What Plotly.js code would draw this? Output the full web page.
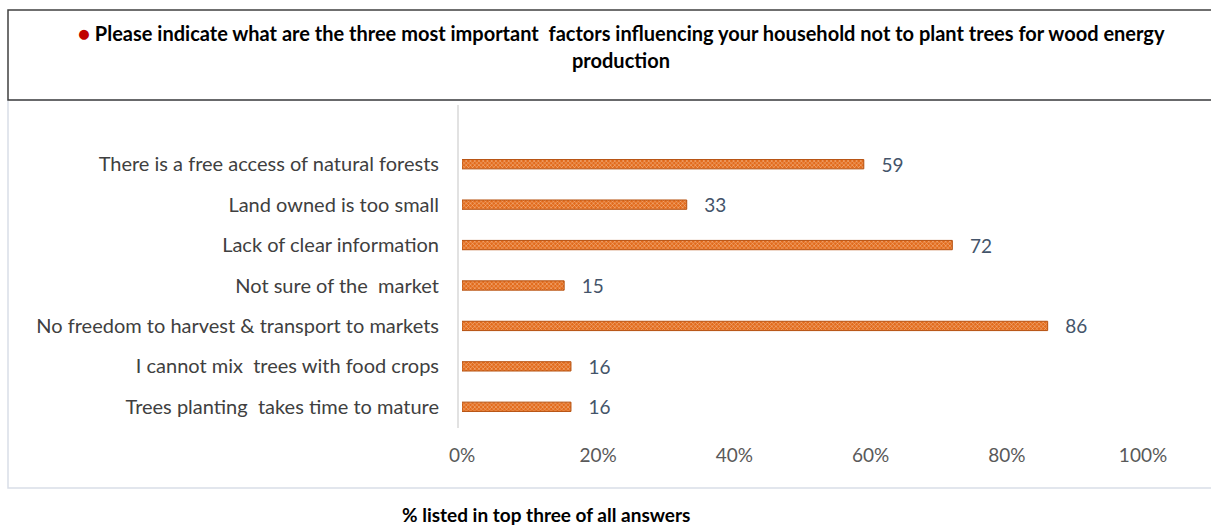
<!DOCTYPE html>
<html><head><meta charset="utf-8">
<script src="https://cdn.plot.ly/plotly-3.0.1.min.js"></script>
<style>html,body{margin:0;padding:0;background:#fff;}#chart{width:1211px;height:528px;}</style>
</head><body><div id="chart"></div>
<script>
const categories = [
  "There is a free access of natural forests",
  "Land owned is too small",
  "Lack of clear information",
  "Not sure of the  market",
  "No freedom to harvest & transport to markets",
  "I cannot mix  trees with food crops",
  "Trees planting  takes time to mature"
];
const values = [59, 33, 72, 15, 86, 16, 16];
const tickVals = [0, 20, 40, 60, 80, 100];
const tickText = ["0%", "20%", "40%", "60%", "80%", "100%"];

const W = 1211, H = 528;
const L = 462, R = 1143, T = 144, B = 427;
const px = x => (x - L) / (R - L);
const py = y => (B - y) / (B - T);
const FONT = "Lato, 'Open Sans', sans-serif";

const trace = {
  type: "bar", orientation: "h",
  y: categories, x: values,
  text: values.map(v => "   " + v),
  textposition: "outside", cliponaxis: false, constraintext: "none",
  textfont: {family: FONT, size: 19, color: "#44546A"},
  width: 0.23,
  marker: {
    color: "#E26B1C",
    line: {color: "#B5500F", width: 1},
    pattern: {shape: "x", fgcolor: "#F6C39D", bgcolor: "#E26B1C", size: 3, solidity: 0.3}
  },
  hoverinfo: "skip"
};

const layout = {
  width: W, height: H,
  margin: {l: L, r: W - R, t: T, b: H - B, pad: 0},
  paper_bgcolor: "#fff", plot_bgcolor: "#fff",
  showlegend: false,
  xaxis: {
    range: [0, 100], tickvals: tickVals, ticktext: tickText,
    showgrid: false, zeroline: false, showline: false,
    ticks: "outside", ticklen: 11, tickcolor: "rgba(0,0,0,0)",
    tickfont: {family: FONT, size: 19, color: "#595959"}
  },
  yaxis: {
    categoryorder: "array", categoryarray: categories.slice().reverse(),
    autorange: false, range: [-0.5, 6.5],
    showgrid: false, zeroline: false, showline: false,
    ticks: "outside", ticklen: 18, tickcolor: "rgba(0,0,0,0)",
    tickfont: {family: FONT, size: 20, color: "#404040"}
  },
  shapes: [
    {type: "rect", xref: "paper", yref: "paper", x0: px(8), x1: px(1216), y0: py(488), y1: py(100),
     line: {color: "#D9DEE8", width: 1.5}, fillcolor: "rgba(0,0,0,0)", layer: "below"},
    {type: "rect", xref: "paper", yref: "paper", x0: px(8), x1: px(1216), y0: py(100), y1: py(10),
     line: {color: "#404040", width: 1.5}, fillcolor: "rgba(0,0,0,0)", layer: "below"},
    {type: "line", xref: "paper", yref: "paper", x0: px(458), x1: px(458), y0: py(428), y1: py(105),
     line: {color: "#D9D9D9", width: 1.5}}
  ],
  annotations: [
    {xref: "paper", yref: "paper", x: px(621), y: py(33), xanchor: "center", yanchor: "middle", showarrow: false,
     text: "<span style='color:#C00000'>●</span> Please indicate what are the three most important  factors influencing your household not to plant trees for wood energy",
     font: {family: FONT, size: 20, color: "#000", weight: "bold"}},
    {xref: "paper", yref: "paper", x: px(621), y: py(60), xanchor: "center", yanchor: "middle", showarrow: false,
     text: "production",
     font: {family: FONT, size: 20, color: "#000", weight: "bold"}},
    {xref: "paper", yref: "paper", x: px(546), y: py(514), xanchor: "center", yanchor: "middle", showarrow: false,
     text: "% listed in top three of all answers",
     font: {family: FONT, size: 19, color: "#000", weight: "bold"}}
  ]
};

Plotly.newPlot("chart", [trace], layout, {displayModeBar: false, staticPlot: true});
</script>
</body></html>
